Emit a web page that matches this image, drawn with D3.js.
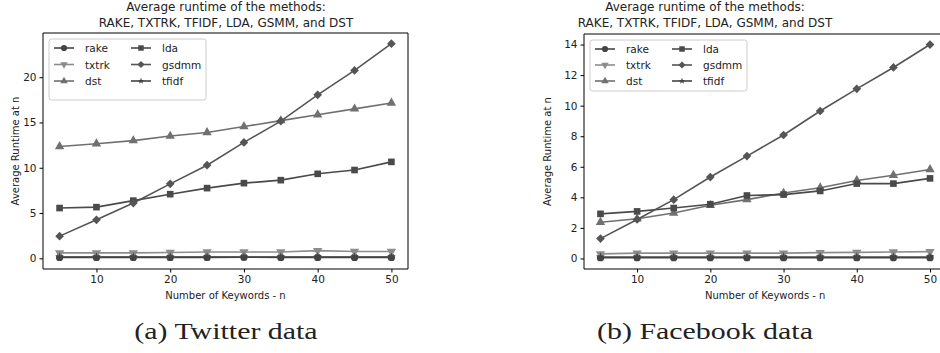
<!DOCTYPE html>
<html><head><meta charset="utf-8">
<script src="https://cdn.jsdelivr.net/npm/d3@7"></script>
<style>
body{margin:0;background:#fff;}
svg text{font-family:"DejaVu Sans",sans-serif;fill:#222;}
.cap{font-family:"Liberation Serif","DejaVu Serif",serif;}
</style></head>
<body><svg id="c" width="940" height="353"></svg>
<script>
const nValues = [5,10,15,20,25,30,35,40,45,50];
const seriesNames = ["rake","txtrk","dst","lda","gsdmm","tfidf"];
// Twitter data
const twRake  = [0.1,0.1,0.1,0.1,0.1,0.12,0.1,0.1,0.1,0.1];
const twTxtrk = [0.6,0.6,0.6,0.65,0.7,0.7,0.7,0.85,0.75,0.75];
const twDst   = [12.35,12.65,13.0,13.5,13.9,14.55,15.2,15.85,16.5,17.15];
const twLda   = [5.55,5.65,6.37,7.08,7.75,8.3,8.63,9.33,9.75,10.65];
const twGsdmm = [2.45,4.25,6.1,8.22,10.28,12.8,15.15,18.05,20.75,23.7];
const twTfidf = [0.15,0.15,0.15,0.15,0.15,0.15,0.15,0.15,0.15,0.15];
// Facebook data
const fbRake  = [0.05,0.05,0.05,0.05,0.05,0.05,0.05,0.05,0.05,0.05];
const fbTxtrk = [0.3,0.35,0.35,0.35,0.35,0.35,0.38,0.4,0.42,0.45];
const fbDst   = [2.37,2.6,2.97,3.48,3.85,4.28,4.63,5.1,5.45,5.82];
const fbLda   = [2.92,3.08,3.3,3.55,4.12,4.18,4.42,4.9,4.9,5.24];
const fbGsdmm = [1.3,2.55,3.85,5.33,6.7,8.08,9.65,11.1,12.5,14.0];
const fbTfidf = [0.1,0.1,0.1,0.1,0.1,0.1,0.1,0.1,0.1,0.1];
const twYTicks = [0,5,10,15,20];
const fbYTicks = [0,2,4,6,8,10,12,14];
const xTicks = [10,20,30,40,50];
const titleLines = ["Average runtime of the methods:","RAKE, TXTRK, TFIDF, LDA, GSMM, and DST"];
const captions = ["(a) Twitter data","(b) Facebook data"];

const styles = {
  rake:{color:"#444", sym:d3.symbolCircle, size:42, lsize:30, rot:0},
  txtrk:{color:"#8c8c8c", sym:d3.symbolTriangle, size:38, lsize:24, rot:180},
  dst:{color:"#707070", sym:d3.symbolTriangle, size:38, lsize:24, rot:0},
  lda:{color:"#4a4a4a", sym:d3.symbolSquare, size:44, lsize:30, rot:0},
  gsdmm:{color:"#555", sym:d3.symbolSquare, size:38, lsize:26, rot:45},
  tfidf:{color:"#444", sym:d3.symbolStar, size:24, lsize:14, rot:0}
};

const svg = d3.select("#c");

function chart(o){
  const x = d3.scaleLinear().domain([2.75,52.25]).range([o.left,o.right]);
  const y = d3.scaleLinear().domain(o.yDom).range([o.bottom,o.top]);
  const g = svg.append("g");
  titleLines.forEach((t,i)=>g.append("text").attr("x",o.cx).attr("y",11+i*15.5)
    .attr("text-anchor","middle").attr("font-size",12).text(t));
  g.append("g").attr("transform",`translate(0,${o.bottom})`)
    .call(d3.axisBottom(x).tickValues(xTicks).tickSize(3.5).tickPadding(3).tickFormat(d3.format("d")))
    .call(a=>{a.select(".domain").remove();a.selectAll("text").attr("font-size",10.5).style("fill","#222");});
  g.append("g").attr("transform",`translate(${o.left},0)`)
    .call(d3.axisLeft(y).tickValues(o.yTicks).tickSize(3.5).tickPadding(3).tickFormat(d3.format("d")))
    .call(a=>{a.select(".domain").remove();a.selectAll("text").attr("font-size",10.5).style("fill","#222");});
  const fr = g.append("g").attr("stroke","#000").attr("stroke-width",1).attr("fill","none");
  fr.append("line").attr("x1",o.left).attr("x2",o.right).attr("y1",o.top).attr("y2",o.top);
  fr.append("line").attr("x1",o.left).attr("x2",o.right).attr("y1",o.bottom).attr("y2",o.bottom);
  fr.append("line").attr("x1",o.left).attr("x2",o.left).attr("y1",o.top).attr("y2",o.bottom);
  fr.append("line").attr("x1",o.right).attr("x2",o.right).attr("y1",o.top).attr("y2",o.bottom);
  g.append("text").attr("x",(o.left+o.right)/2).attr("y",299).attr("text-anchor","middle")
    .attr("font-size",10).text("Number of Keywords - n");
  g.append("text").attr("transform",`translate(${o.ylabX},${(o.top+o.bottom)/2}) rotate(-90)`)
    .attr("text-anchor","middle").attr("font-size",10).text("Average Runtime at n");
  const line = d3.line().x((d,i)=>x(nValues[i])).y(d=>y(d));
  seriesNames.forEach((name,k)=>{
    const st = styles[name]; const vals = o.data[k];
    g.append("path").attr("d",line(vals)).attr("fill","none").attr("stroke",st.color).attr("stroke-width",1.6);
    g.selectAll(null).data(vals).join("path")
      .attr("d",d3.symbol(st.sym,st.size))
      .attr("transform",(d,i)=>`translate(${x(nValues[i])},${y(d)}) rotate(${st.rot})`)
      .attr("fill",st.color);
  });
  const lg = g.append("g").attr("transform",`translate(${o.left+6},${o.top+6})`);
  lg.append("rect").attr("width",157).attr("height",o.legH).attr("rx",2.5).attr("fill","#fff")
    .attr("fill-opacity",0.85).attr("stroke","#ccc");
  seriesNames.forEach((name,k)=>{
    const st=styles[name]; const col=Math.floor(k/3), row=k%3;
    const lx = 5+col*77, ly = 9+row*o.legRow;
    lg.append("line").attr("x1",lx).attr("x2",lx+20).attr("y1",ly).attr("y2",ly).attr("stroke",st.color).attr("stroke-width",1.6);
    lg.append("path").attr("d",d3.symbol(st.sym,st.lsize)()).attr("transform",`translate(${lx+10},${ly}) rotate(${st.rot})`).attr("fill",st.color);
    lg.append("text").attr("x",lx+31).attr("y",ly+4).attr("font-size",10.5).text(name);
  });
  const cap = g.append("text").attr("class","cap").attr("x",o.cx).attr("y",339).attr("text-anchor","middle")
    .attr("font-size",23).text(o.caption);
  const w = cap.node().getComputedTextLength();
  cap.attr("textLength",w*1.3).attr("lengthAdjust","spacingAndGlyphs");
}

chart({left:43,right:408,top:33,bottom:269,cx:226,yDom:[-1.18,24.88],yTicks:twYTicks,ylabX:19,
  data:[twRake,twTxtrk,twDst,twLda,twGsdmm,twTfidf],caption:captions[0],legH:61,legRow:16.5});
chart({left:584,right:946.5,top:34,bottom:269,cx:705,yDom:[-0.69,14.69],yTicks:fbYTicks,ylabX:551,
  data:[fbRake,fbTxtrk,fbDst,fbLda,fbGsdmm,fbTfidf],caption:captions[1],legH:51,legRow:16});
</script></body></html>
